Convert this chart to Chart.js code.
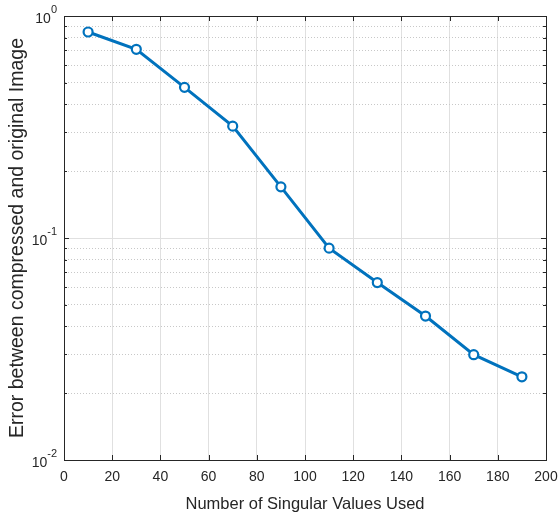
<!DOCTYPE html>
<html>
<head>
<meta charset="utf-8">
<script src="https://cdn.jsdelivr.net/npm/chart.js@4/dist/chart.umd.min.js"></script>
<style>
  html, body { margin: 0; padding: 0; background: #fff; }
  canvas { display: block; }
</style>
</head>
<body>
<canvas id="errChart" width="558" height="518"></canvas>
<script>
// values
const singularValues = [10, 30, 50, 70, 90, 110, 130, 150, 170, 190];
const errorValues = [0.847, 0.708, 0.477, 0.319, 0.17, 0.09, 0.063, 0.0445, 0.0298, 0.0237];
const yTickValues = [
  0.01, 0.02, 0.03, 0.04, 0.05, 0.06, 0.07, 0.08, 0.09,
  0.1, 0.2, 0.3, 0.4, 0.5, 0.6, 0.7, 0.8, 0.9, 1
];
const yDecades = [1, 0.1, 0.01];

const FONT = "'Liberation Sans', Arial, Helvetica, sans-serif";
const INK = "#262626";

function isDecade(v) {
  const e = Math.log10(v);
  return Math.abs(e - Math.round(e)) < 1e-6;
}

// matlab style box: inward ticks, top/right border, superscript y labels
const matlabBox = {
  id: "matlabBox",
  afterDraw(chart) {
    const { ctx, chartArea: a } = chart;
    const xs = chart.scales.x;
    const ys = chart.scales.y;
    ctx.save();
    ctx.strokeStyle = INK;
    ctx.lineWidth = 1;
    ctx.beginPath();
    ctx.moveTo(a.left, a.top + 0.5);
    ctx.lineTo(a.right + 0.5, a.top + 0.5);
    ctx.lineTo(a.right + 0.5, a.bottom);
    ctx.stroke();

    ctx.beginPath();
    xs.ticks.forEach((t) => {
      const px = Math.round(xs.getPixelForValue(t.value)) + 0.5;
      ctx.moveTo(px, a.bottom);
      ctx.lineTo(px, a.bottom - 5);
      ctx.moveTo(px, a.top);
      ctx.lineTo(px, a.top + 5);
    });
    ys.ticks.forEach((t) => {
      const py = Math.round(ys.getPixelForValue(t.value)) + 0.5;
      const len = isDecade(t.value) ? 5 : 3;
      ctx.moveTo(a.left, py);
      ctx.lineTo(a.left + len, py);
      ctx.moveTo(a.right, py);
      ctx.lineTo(a.right - len, py);
    });
    ctx.stroke();

    // y tick labels 10^n
    ctx.fillStyle = INK;
    yDecades.forEach((v) => {
      const py = ys.getPixelForValue(v);
      const exp = String(Math.round(Math.log10(v)));
      ctx.font = "11px " + FONT;
      const ew = ctx.measureText(exp).width;
      ctx.font = "14px " + FONT;
      const bw = ctx.measureText("10").width;
      const right = a.left - 7;
      ctx.textBaseline = "middle";
      ctx.textAlign = "left";
      ctx.fillText("10", right - ew - bw, py + 3);
      ctx.font = "11px " + FONT;
      ctx.fillText(exp, right - ew, py - 6);
    });
    ctx.restore();
  }
};

const chart = new Chart(document.getElementById("errChart"), {
  type: "line",
  data: {
    datasets: [
      {
        label: "error",
        data: singularValues.map((x, i) => ({ x: x, y: errorValues[i] })),
        borderColor: "#0072BD",
        borderWidth: 3,
        pointRadius: 4.5,
        pointBorderWidth: 2.2,
        pointBackgroundColor: "#ffffff",
        pointBorderColor: "#0072BD",
        tension: 0,
        clip: false
      }
    ]
  },
  options: {
    responsive: false,
    animation: false,
    layout: { padding: { top: 16, right: 0, left: 0, bottom: 0 } },
    plugins: {
      legend: { display: false },
      tooltip: { enabled: false }
    },
    scales: {
      x: {
        type: "linear",
        min: 0,
        max: 200,
        ticks: {
          stepSize: 20,
          color: INK,
          padding: 9,
          font: { family: FONT, size: 14 }
        },
        grid: { color: "#e0e0e0", drawTicks: false },
        border: { display: true, color: INK, width: 1 },
        title: {
          display: true,
          text: "Number of Singular Values Used",
          color: INK,
          font: { family: FONT, size: 16.5 },
          padding: { top: 0, bottom: 4 }
        },
        afterFit(scale) {
          scale.height = 58;
          scale.paddingLeft = 0;
          scale.paddingRight = 12;
        }
      },
      y: {
        type: "logarithmic",
        min: 0.01,
        max: 1,
        afterBuildTicks(scale) {
          scale.ticks = yTickValues.map((v) => ({ value: v }));
        },
        ticks: { display: false },
        grid: {
          drawTicks: false,
          color: (c) => (c.tick && !isDecade(c.tick.value) ? "#c8c8c8" : "#e0e0e0")
        },
        border: {
          display: true,
          color: INK,
          width: 1,
          dash: (c) => (c.tick && !isDecade(c.tick.value) ? [1, 2] : [])
        },
        title: {
          display: true,
          text: "Error between compressed and original Image",
          color: INK,
          font: { family: FONT, size: 19.5 },
          padding: { top: 6, bottom: 0 }
        },
        afterFit(scale) {
          scale.width = 64;
        }
      }
    }
  },
  plugins: [matlabBox]
});
</script>
</body>
</html>
